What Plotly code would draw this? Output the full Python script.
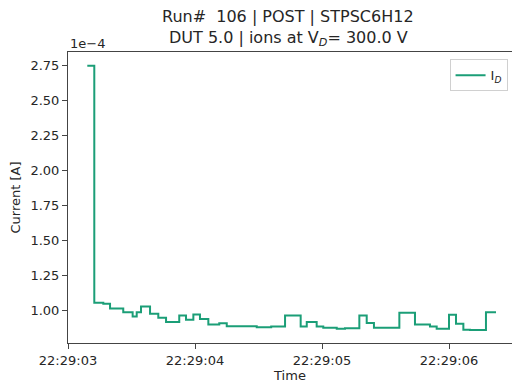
import plotly.graph_objects as go
import pandas as pd

# seconds after 22:29:00 at which each step starts
t_sec = [3.152, 3.207, 3.278, 3.331, 3.435, 3.509, 3.541, 3.575, 3.646, 3.711,
         3.772, 3.876, 3.929, 3.987, 4.039, 4.105, 4.191, 4.250, 4.486, 4.600,
         4.709, 4.832, 4.880, 4.958, 5.010, 5.116, 5.181, 5.294, 5.352, 5.409,
         5.609, 5.732, 5.850, 5.903, 6.000, 6.055, 6.113, 6.165, 6.291, 6.370]
# drain current in units of 1e-4 A
i_d = [2.745, 1.055, 1.048, 1.014, 0.988, 0.957, 0.988, 1.029, 0.976, 0.948,
       0.917, 0.964, 0.933, 0.971, 0.940, 0.900, 0.909, 0.888, 0.881, 0.886,
       0.964, 0.886, 0.917, 0.886, 0.876, 0.869, 0.874, 0.964, 0.910, 0.876,
       0.983, 0.900, 0.886, 0.869, 0.969, 0.905, 0.862, 0.860, 0.988, 0.988]
y_ticks = [1.00, 1.25, 1.50, 1.75, 2.00, 2.25, 2.50, 2.75]
x_ticks_sec = [3, 4, 5, 6]

base = pd.Timestamp("2023-01-01 22:29:00")
times = [base + pd.Timedelta(seconds=s) for s in t_sec]
amps = [v * 1e-4 for v in i_d]

FONT = "DejaVu Sans"
fig = go.Figure()
fig.add_trace(go.Scatter(x=times, y=amps, mode="lines", line_shape="hv",
                         line=dict(color="#1b9e77", width=2),
                         name="I<sub><i>D</i></sub>"))

x_left = base + pd.Timedelta(seconds=3.0)
x_right = base + pd.Timedelta(seconds=6.496)
fig.update_layout(
    width=512, height=387,
    margin=dict(l=68, r=0, t=52, b=44),
    paper_bgcolor="white", plot_bgcolor="white",
    font=dict(family=FONT, size=13, color="#262626"),
    showlegend=True,
    legend=dict(x=0.99, y=0.975, xanchor="right", yanchor="top",
                bordercolor="#d0d0d0", borderwidth=1, bgcolor="white",
                font=dict(size=13), itemwidth=30),
    xaxis=dict(range=[x_left, x_right], type="date",
               tickvals=[base + pd.Timedelta(seconds=s) for s in x_ticks_sec],
               tickformat="%H:%M:%S", ticks="outside", ticklen=5, tickcolor="#444",
               showline=True, linecolor="#444", linewidth=1, mirror=True,
               showgrid=False, zeroline=False,
               title=dict(text="Time", font=dict(size=13), standoff=4)),
    yaxis=dict(range=[0.768e-4, 2.843e-4],
               tickvals=[v * 1e-4 for v in y_ticks],
               ticktext=[f"{v:.2f}" for v in y_ticks],
               ticks="outside", ticklen=5, tickcolor="#444",
               showline=True, linecolor="#444", linewidth=1, mirror=False,
               showgrid=False, zeroline=False,
               title=dict(text="Current [A]", font=dict(size=13), standoff=6)),
    annotations=[
        dict(text="Run#  106 | POST | STPSC6H12", xref="paper", yref="paper",
             x=0.4955, y=1.0, yshift=36, xanchor="center", yanchor="middle",
             showarrow=False, font=dict(size=16)),
        dict(text="DUT 5.0 | ions at V<sub><i>D</i></sub>= 300.0 V", xref="paper", yref="paper",
             x=0.4955, y=1.0, yshift=14, xanchor="center", yanchor="middle",
             showarrow=False, font=dict(size=16)),
        dict(text="1e\u22124", xref="paper", yref="paper", x=0, y=1.0, yshift=9,
             xanchor="left", yanchor="middle", showarrow=False, font=dict(size=13)),
    ],
)
fig.write_html("out.html")
